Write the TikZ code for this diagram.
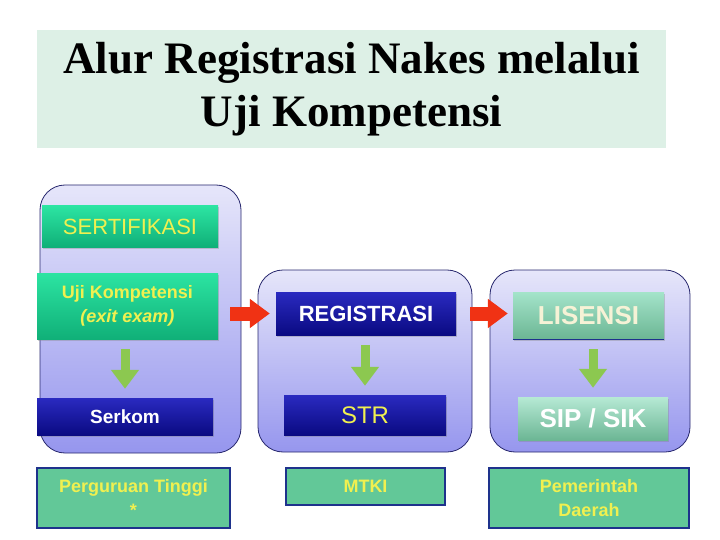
\documentclass[tikz,border=0pt]{standalone}
\usepackage{fontspec}
\setmainfont{Liberation Serif}
\setsansfont{Liberation Sans}
\usetikzlibrary{positioning,arrows.meta,shadows}
\tikzstyle{slide} = [x = 1pt, y = -1pt]
\definecolor{titleColor}{RGB}{221,240,230}
\definecolor{panelTop}{RGB}{230,230,250}
\definecolor{panelBottom}{RGB}{150,150,238}
\definecolor{panelBorder}{RGB}{40,40,110}
\definecolor{darkTop}{RGB}{42,42,192}
\definecolor{darkBottom}{RGB}{10,10,130}
\definecolor{greenTop}{RGB}{44,228,162}
\definecolor{greenBottom}{RGB}{16,176,120}
\definecolor{paleTop}{RGB}{164,228,202}
\definecolor{paleBottom}{RGB}{108,182,148}
\definecolor{plainGreen}{RGB}{98,200,152}
\definecolor{boxBorder}{RGB}{30,50,140}
\definecolor{textYellow}{RGB}{240,240,80}
\definecolor{textCream}{RGB}{246,242,214}
\definecolor{arrowGreen}{RGB}{140,200,80}
\definecolor{arrowRed}{RGB}{240,50,20}
\tikzstyle{titleStyle} = [fill=titleColor, align=center, font=\fontsize{45}{53}\selectfont\bfseries, inner sep=0pt]
\tikzstyle{panelStyle} = [draw=panelBorder, top color=panelTop, bottom color=panelBottom, rounded corners = 25pt, thick, inner sep=0pt]
\tikzstyle{darkBox} = [top color=darkTop, bottom color=darkBottom, font=\sffamily, drop shadow={opacity=0.35, shadow xshift=1pt, shadow yshift=-1.5pt}, inner sep=0pt]
\tikzstyle{greenBox} = [top color=greenTop, bottom color=greenBottom, text=textYellow, font=\sffamily, drop shadow={opacity=0.35, shadow xshift=1pt, shadow yshift=-1.5pt}, inner sep=0pt, align=center]
\tikzstyle{paleBox} = [top color=paleTop, bottom color=paleBottom, font=\sffamily\bfseries, drop shadow={opacity=0.35, shadow xshift=1pt, shadow yshift=-1.5pt}, inner sep=0pt]
\tikzstyle{baseBox} = [fill=plainGreen, draw=boxBorder, line width=1.5pt, text=textYellow, font=\sffamily\bfseries\fontsize{18}{24}\selectfont, align=center, inner sep=0pt]
\tikzstyle{greenArrowStyle} = [draw=arrowGreen, line width=9pt, -{Triangle[width=27pt, length=19pt]}, shorten <= 10pt, shorten >= 9pt]
\tikzstyle{redArrowStyle} = [draw=arrowRed, line width=14pt, -{Triangle[width=28pt, length=20pt]}]
\newcommand{\size}[1]{\fontsize{#1}{#1}\selectfont}
\newcommand{\stepArrow}[2]{\draw [greenArrowStyle] (#1.south -| #2.north) -- (#2.north);}
\begin{document}
\begin{tikzpicture}[slide]
\useasboundingbox (0,0) rectangle (720,540);
\node [titleStyle, minimum width=629pt, minimum height=118pt] (title) at (351.5,89) {Alur Registrasi Nakes melalui\\Uji Kompetensi};
\node [panelStyle, minimum width=201pt, minimum height=268pt] (panelSertifikasi) at (140.5,319) {};
\node [panelStyle, minimum width=214pt, minimum height=182pt] (panelRegistrasi) at (365,361) {};
\node [panelStyle, minimum width=200pt, minimum height=182pt] (panelLisensi) at (590,361) {};
\node [greenBox, minimum width=176pt, minimum height=41pt, font=\sffamily\size{22}] (sertifikasi) at (130,226.5) {SERTIFIKASI};
\node [greenBox, minimum width=181pt, minimum height=66pt, font=\sffamily\bfseries\fontsize{18}{24}\selectfont] (uji) at (127.5,306) {Uji Kompetensi\\\textit{(exit exam)}};
\node [darkBox, minimum width=176pt, minimum height=37pt, text=white, font=\sffamily\bfseries\size{19}] (serkom) at (125,416.5) {Serkom};
\node [darkBox, minimum width=180pt, minimum height=43pt, text=white, font=\sffamily\bfseries\size{22}] (registrasi) at (366,313.5) {REGISTRASI};
\node [darkBox, minimum width=162pt, minimum height=40pt, text=textYellow, font=\sffamily\size{24}] (str) at (365,415) {STR};
\node [paleBox, minimum width=151pt, minimum height=47pt, text=textCream, font=\sffamily\bfseries\size{26}] (lisensi) at (588.5,315.5) {LISENSI};
\draw [boxBorder, thick] (lisensi.south west) -- (lisensi.south east);
\node [paleBox, minimum width=150pt, minimum height=43pt, text=white, font=\sffamily\bfseries\size{26}, top color=paleTop!80!white] (sip) at (593,418.5) {SIP / SIK};
\node [baseBox, minimum width=193pt, minimum height=60pt] (perguruan) at (133.5,498) {Perguruan Tinggi\\*};
\node [baseBox, minimum width=159pt, minimum height=37pt] (mtki) at (365.5,486.5) {MTKI};
\node [baseBox, minimum width=200pt, minimum height=60pt] (pemda) at (589,498) {Pemerintah\\Daerah};
\stepArrow{uji}{serkom}
\stepArrow{registrasi}{str}
\stepArrow{lisensi}{sip}
\draw [redArrowStyle, shorten <= 12pt, shorten >= 6pt] (uji.east |- registrasi.west) -- (registrasi.west);
\draw [redArrowStyle, shorten <= 14pt, shorten >= 5pt] (registrasi.east) -- (lisensi.west |- registrasi.east);
\end{tikzpicture}
\end{document}
